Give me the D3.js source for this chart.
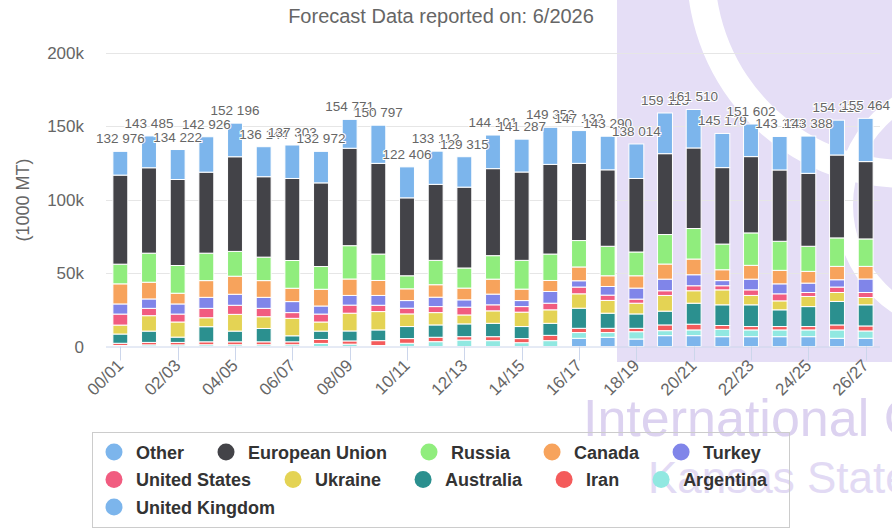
<!DOCTYPE html>
<html>
<head>
<meta charset="utf-8">
<script src="https://cdn.jsdelivr.net/npm/d3@7"></script>
<style>
    body { margin: 0; background: #fff; }
    svg text { font-family: "Liberation Sans", Arial, sans-serif; }
</style>
</head>
<body>
<svg id="chart" width="892" height="530"></svg>
<script>
const years = ['00/01', '01/02', '02/03', '03/04', '04/05', '05/06', '06/07', '07/08', '08/09', '09/10',
    '10/11', '11/12', '12/13', '13/14', '14/15', '15/16', '16/17', '17/18', '18/19', '19/20',
    '20/21', '21/22', '22/23', '23/24', '24/25', '25/26', '26/27'];
const tickYears = ['00/01', '02/03', '04/05', '06/07', '08/09', '10/11', '12/13', '14/15',
    '16/17', '18/19', '20/21', '22/23', '24/25', '26/27'];
const yTicks = [0, 50000, 100000, 150000, 200000];
const yTickLabels = ['0', '50k', '100k', '150k', '200k'];

// 1000 MT
const other = [16176, 21685, 20422, 24126, 22896, 20444, 22803, 21472, 19671, 25997, 21106, 22612, 20715, 22901,
    22387, 25252, 22332, 22890, 23514, 27715, 26210, 23279, 22202, 22833, 25388, 23713, 29464];
const europeanUnion = [60700, 58200, 58600, 55200, 64500, 54800, 55900, 57000, 66400, 61800, 53100, 51800, 55100, 59300,
    60200, 61100, 52600, 52100, 50100, 55100, 54900, 52100, 52000, 48600, 49700, 56500, 52700];
const russia = [13400, 19800, 18900, 18700, 16900, 16000, 18900, 15500, 22700, 18000, 8900, 16600, 13700, 16000,
    19600, 18000, 18000, 20100, 16200, 20100, 20800, 17500, 22100, 19800, 17100, 19400, 18700];
const canada = [13700, 11400, 7300, 11400, 12300, 11400, 9100, 11400, 11200, 10200, 8000, 8500, 8000, 10200,
    7800, 7500, 9400, 7300, 8400, 10300, 10700, 7400, 9400, 9200, 8000, 9100, 8600];
const turkey = [6900, 6400, 6900, 7500, 7500, 7500, 7500, 5500, 6600, 6700, 5200, 6400, 5000, 7300,
    4100, 8000, 4300, 5900, 7500, 7900, 7500, 3500, 7300, 6800, 6400, 5000, 9200];
const unitedStates = [7500, 5000, 5400, 6400, 6200, 5700, 3900, 5400, 5500, 4300, 3900, 4100, 5300, 4100,
    3800, 4500, 4600, 3600, 2800, 3200, 3400, 2800, 3800, 4800, 2700, 3700, 3400];
const ukraine = [6100, 10500, 10300, 6100, 11400, 8000, 11900, 6200, 12100, 12500, 8600, 8400, 6100, 8500,
    9800, 9200, 9800, 8700, 7300, 10700, 8500, 10200, 6400, 6100, 6900, 6100, 5000];
const australia = [6300, 7700, 3600, 10300, 7300, 9100, 4100, 5700, 6800, 7300, 8200, 8400, 8700, 9100,
    8200, 8200, 13700, 10300, 9800, 9400, 14300, 14100, 14800, 11400, 13600, 16000, 14400];
const iran = [1500, 1700, 1700, 2000, 2000, 2000, 2000, 2700, 2200, 3300, 3200, 3000, 2300, 2700,
    2800, 3600, 2900, 2900, 2300, 3900, 3900, 2600, 2300, 2300, 2300, 3400, 3400];
const argentina = [700, 1100, 1100, 1200, 1200, 1200, 1200, 2100, 1600, 700, 2200, 3300, 4400, 4000,
    2600, 4000, 3900, 3200, 5000, 3400, 3900, 5000, 4600, 4600, 4600, 5700, 5000];
const unitedKingdom = [null, null, null, null, null, null, null, null, null, null, null, null, null, null,
    null, null, 5600, 6300, 5100, 7400, 7400, 6700, 6700, 6700, 6700, 5600, 5600];

// legend order = top of stack first
const series = [
    { name: 'Other', color: '#7cb5ec', values: other },
    { name: 'European Union', color: '#434348', values: europeanUnion },
    { name: 'Russia', color: '#90ed7d', values: russia },
    { name: 'Canada', color: '#f7a35c', values: canada },
    { name: 'Turkey', color: '#8085e9', values: turkey },
    { name: 'United States', color: '#f15c80', values: unitedStates },
    { name: 'Ukraine', color: '#e4d354', values: ukraine },
    { name: 'Australia', color: '#2b908f', values: australia },
    { name: 'Iran', color: '#f45b5b', values: iran },
    { name: 'Argentina', color: '#91e8e1', values: argentina },
    { name: 'United Kingdom', color: '#7cb5ec', values: unitedKingdom }
];

const svg = d3.select('#chart');
const margin = { left: 106, right: 12, top: 53 };
const plotRight = 892 - margin.right;
const plotBottom = 346.5;

// watermark
const lavender = '#e5def6';
const mark = svg.append('g').classed('watermark', true);
mark.append('clipPath')
    .attr('id', 'markClip')
    .append('rect')
        .attr('x', 617).attr('y', 0).attr('width', 275).attr('height', 362);
const markArea = mark.append('g').attr('clip-path', 'url(#markClip)');
markArea.append('rect')
    .attr('x', 617).attr('y', 0).attr('width', 275).attr('height', 362)
    .attr('fill', lavender);
markArea.append('path')
    .attr('transform', 'translate(905,-30)')
    .attr('d', d3.arc().innerRadius(190).outerRadius(218).startAngle(0).endAngle(2 * Math.PI)())
    .attr('fill', '#fff');
markArea.append('path')
    .attr('transform', 'translate(965,205)')
    .attr('d', d3.arc().innerRadius(112).outerRadius(130).startAngle(0).endAngle(2 * Math.PI)())
    .attr('fill', '#fff');
mark.append('text')
    .attr('x', 583).attr('y', 436)
    .style('font-size', '52px')
    .style('fill', '#dcd2f0')
    .text('International Grains Program');
mark.append('text')
    .attr('x', 648).attr('y', 493)
    .style('font-size', '44px')
    .style('fill', '#e2daf4')
    .text('Kansas State University');

const xScale = d3.scaleBand()
    .domain(years)
    .range([margin.left, plotRight])
    .paddingInner(0.48)
    .paddingOuter(0.24);

const yScale = d3.scaleLinear()
    .domain([0, 200000])
    .range([plotBottom, margin.top]);

// grid
svg.append('g')
    .classed('yGrid', true)
    .selectAll('line')
    .data(yTicks.slice(1))
    .join('line')
        .attr('x1', margin.left)
        .attr('x2', plotRight)
        .attr('y1', d => Math.round(yScale(d)) + 0.5)
        .attr('y2', d => Math.round(yScale(d)) + 0.5)
        .attr('stroke', '#e6e6e6');

// y labels
svg.append('g')
    .classed('yAxis', true)
    .selectAll('text')
    .data(yTicks)
    .join('text')
        .attr('x', 84)
        .attr('y', d => yScale(d) + 6)
        .attr('text-anchor', 'end')
        .style('font-size', '17px')
        .style('fill', '#666')
        .text((d, i) => yTickLabels[i]);

svg.append('text')
    .attr('transform', 'translate(29,200) rotate(-90)')
    .attr('text-anchor', 'middle')
    .style('font-size', '18px')
    .style('fill', '#666')
    .text('(1000 MT)');

svg.append('text')
    .attr('x', 441)
    .attr('y', 23)
    .attr('text-anchor', 'middle')
    .style('font-size', '20px')
    .style('fill', '#666')
    .text('Forecast Data reported on: 6/2026');

// stacked bars
const keys = series.map(s => s.name).reverse();
const rows = years.map((y, i) => {
    const row = { year: y };
    series.forEach(s => { row[s.name] = s.values[i] || 0; });
    return row;
});
const stacked = d3.stack().keys(keys)(rows);
const colorOf = name => series.find(s => s.name === name).color;

svg.append('g')
    .classed('bars', true)
    .selectAll('g')
    .data(stacked)
    .join('g')
        .attr('fill', d => colorOf(d.key))
    .selectAll('rect')
    .data(d => d.filter(p => p[1] - p[0] > 0))
    .join('rect')
        .attr('x', d => xScale(d.data.year))
        .attr('width', xScale.bandwidth())
        .attr('y', d => yScale(d[1]))
        .attr('height', d => yScale(d[0]) - yScale(d[1]))
        .attr('stroke', '#fff')
        .attr('stroke-width', 1);

// x axis
svg.append('line')
    .attr('x1', margin.left).attr('x2', plotRight)
    .attr('y1', plotBottom + 0.5).attr('y2', plotBottom + 0.5)
    .attr('stroke', '#ccd6eb');

const xAxis = svg.append('g').classed('xAxis', true);
xAxis.selectAll('line')
    .data(tickYears)
    .join('line')
        .attr('x1', d => Math.round(xScale(d) + xScale.bandwidth() / 2) + 0.5)
        .attr('x2', d => Math.round(xScale(d) + xScale.bandwidth() / 2) + 0.5)
        .attr('y1', plotBottom)
        .attr('y2', plotBottom + 14)
        .attr('stroke', '#ccd6eb');
xAxis.selectAll('text')
    .data(tickYears)
    .join('text')
        .attr('transform', d => `translate(${xScale(d) + xScale.bandwidth() / 2 + 4},${plotBottom + 20}) rotate(-45)`)
        .attr('text-anchor', 'end')
        .style('font-size', '17px')
        .style('fill', '#666')
        .text(d => d);

// stack totals
const fmt = v => d3.format(',')(v).replace(/,/g, ' ');
svg.append('g')
    .classed('totals', true)
    .selectAll('text')
    .data(rows)
    .join('text')
        .attr('x', d => xScale(d.year) + xScale.bandwidth() / 2)
        .attr('y', d => yScale(d3.sum(keys, k => d[k])) - 8)
        .attr('text-anchor', 'middle')
        .style('font-size', '13.5px')
        .style('fill', '#666')
        .style('stroke', '#fff')
        .style('stroke-width', '2px')
        .style('paint-order', 'stroke')
        .text(d => fmt(d3.sum(keys, k => d[k])));

// legend
const legend = svg.append('g').classed('legend', true);
legend.append('rect')
    .attr('x', 92.5).attr('y', 432.5)
    .attr('width', 697).attr('height', 95)
    .attr('fill', 'none')
    .attr('stroke', '#ccc');

let lx = 114;
let ly = 452;
series.forEach((s, i) => {
    const item = legend.append('g');
    item.append('circle')
        .attr('r', 8.5)
        .attr('fill', s.color);
    const label = item.append('text')
        .attr('x', 22)
        .attr('y', 6.5)
        .style('font-size', '18px')
        .style('font-weight', 'bold')
        .style('fill', '#333')
        .text(s.name);
    const w = label.node().getComputedTextLength();
    if (lx + 22 + w > 782) {
        lx = 114;
        ly += 27.5;
    }
    item.attr('transform', `translate(${lx},${ly})`);
    lx += 22 + w + 42;
});
</script>
</body>
</html>
